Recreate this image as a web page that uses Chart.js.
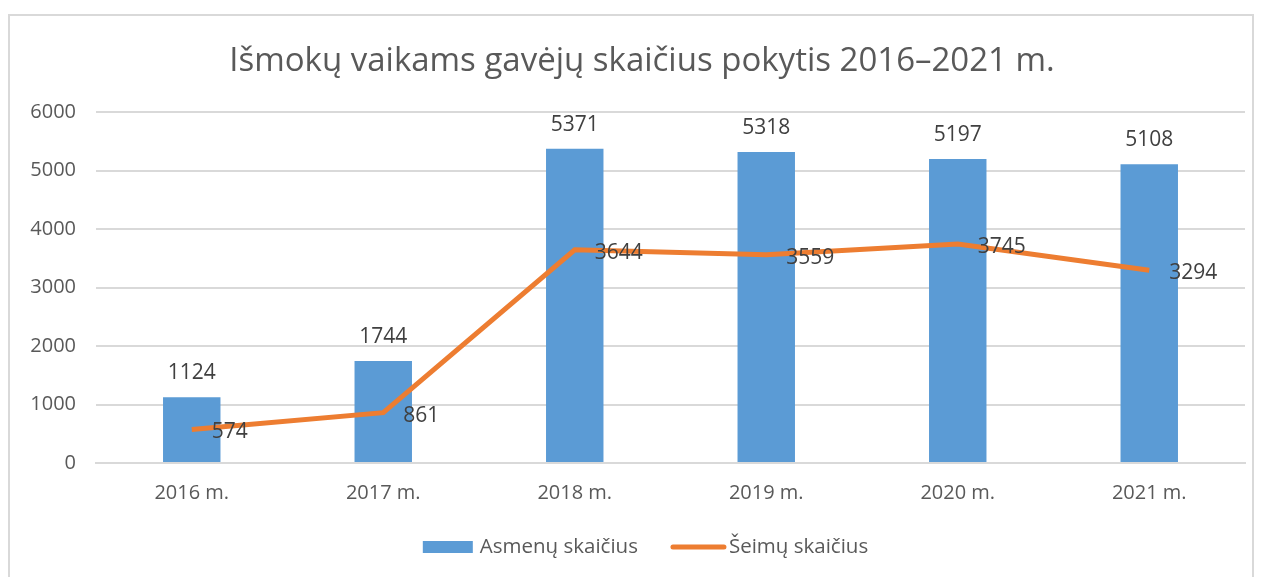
<!DOCTYPE html>
<html>
<head>
<meta charset="utf-8">
<script src="https://cdn.jsdelivr.net/npm/chart.js@4"></script>
<style>
    html, body { margin: 0; padding: 0; background: #fff; }
    #wrap { position: relative; width: 1264px; height: 577px; }
    #frame { position: absolute; left: 8px; top: 14px; width: 1246px; height: 570px; border: 2px solid #d9d9d9; box-sizing: border-box; }
    #chart { position: absolute; left: 0; top: 0; }
</style>
</head>
<body>
<div id="wrap">
    <div id="frame"></div>
    <canvas id="chart" width="1264" height="577"></canvas>
</div>
<script>
// =====================================================
// DATA
// =====================================================
const years = ['2016 m.', '2017 m.', '2018 m.', '2019 m.', '2020 m.', '2021 m.'];
const asmenys = [1124, 1744, 5371, 5318, 5197, 5108];
const seimos = [574, 861, 3644, 3559, 3745, 3294];
const yTicks = [0, 1000, 2000, 3000, 4000, 5000, 6000];
const titleText = 'Išmokų vaikams gavėjų skaičius pokytis 2016–2021 m.';

const FONT = '"Open Sans", "Noto Sans", sans-serif';
const TEXT = '#595959';

Chart.defaults.font.family = FONT;
Chart.defaults.color = TEXT;

// title drawn by hand so it sits where Excel put it
const topTitle = {
    id: 'topTitle',
    afterDraw(chart) {
        const ctx = chart.ctx;
        ctx.save();
        ctx.font = '33px ' + FONT;
        ctx.fillStyle = TEXT;
        ctx.textAlign = 'center';
        ctx.textBaseline = 'middle';
        ctx.fillText(titleText, 642, 62);
        ctx.restore();
    }
};

// value labels: above bars, right of line points
const valueLabels = {
    id: 'valueLabels',
    afterDatasetsDraw(chart) {
        const ctx = chart.ctx;
        ctx.save();
        ctx.font = '21px ' + FONT;
        ctx.fillStyle = '#404040';
        ctx.textBaseline = 'middle';
        chart.getDatasetMeta(0).data.forEach(function (bar, i) {
            ctx.textAlign = 'center';
            ctx.fillText(asmenys[i], bar.x, bar.y - 24);
        });
        chart.getDatasetMeta(1).data.forEach(function (pt, i) {
            ctx.textAlign = 'left';
            ctx.fillText(seimos[i], pt.x + 20, pt.y + 3);
        });
        ctx.restore();
    }
};

// legend drawn by hand (Excel style spacing)
const bottomLegend = {
    id: 'bottomLegend',
    afterDraw(chart) {
        const ctx = chart.ctx;
        const ds = chart.data.datasets;
        const y = 547;
        const boxW = 50, lineW = 55, gapText = 7, gapItem = 33;
        ctx.save();
        ctx.font = '20.5px ' + FONT;
        ctx.textBaseline = 'middle';
        ctx.textAlign = 'left';
        const w0 = ctx.measureText(ds[0].label).width;
        const w1 = ctx.measureText(ds[1].label).width;
        const total = boxW + gapText + w0 + gapItem + lineW + 3 + w1;
        let x = (chart.chartArea.left + chart.chartArea.right) / 2 - 25 - total / 2;

        ctx.fillStyle = ds[0].backgroundColor;
        ctx.fillRect(x, y - 6, boxW, 12);
        x += boxW + gapText;
        ctx.fillStyle = TEXT;
        ctx.fillText(ds[0].label, x, y);
        x += w0 + gapItem;

        ctx.strokeStyle = ds[1].borderColor;
        ctx.lineWidth = 5;
        ctx.lineCap = 'round';
        ctx.beginPath();
        ctx.moveTo(x + 2, y);
        ctx.lineTo(x + lineW - 2, y);
        ctx.stroke();
        x += lineW + 3;
        ctx.fillStyle = TEXT;
        ctx.fillText(ds[1].label, x, y);
        ctx.restore();
    }
};

new Chart(document.getElementById('chart'), {
    type: 'bar',
    data: {
        labels: years,
        datasets: [
            {
                label: 'Asmenų skaičius',
                data: asmenys,
                backgroundColor: '#5B9BD5',
                borderWidth: 0,
                barPercentage: 0.3,
                categoryPercentage: 1,
                order: 2
            },
            {
                type: 'line',
                label: 'Šeimų skaičius',
                data: seimos,
                borderColor: '#ED7D31',
                backgroundColor: '#ED7D31',
                borderWidth: 5,
                pointRadius: 0,
                tension: 0,
                order: 1
            }
        ]
    },
    options: {
        responsive: false,
        animation: false,
        layout: {
            padding: { left: 0, right: 19, top: 112, bottom: 54 }
        },
        plugins: {
            title: { display: false },
            legend: { display: false },
            tooltip: { enabled: false }
        },
        scales: {
            x: {
                grid: { display: false, drawTicks: false },
                border: { display: true, color: '#d9d9d9', width: 2 },
                ticks: { color: TEXT, font: { size: 20 }, padding: 18 }
            },
            y: {
                min: 0,
                max: 6000,
                afterBuildTicks: function (scale) {
                    scale.ticks = yTicks.map(function (v) { return { value: v }; });
                },
                afterFit: function (scale) { scale.width = 96; },
                grid: { color: '#d9d9d9', lineWidth: 2, drawTicks: false },
                border: { display: false },
                ticks: {
                    color: TEXT,
                    font: { size: 20 },
                    padding: 20,
                    callback: function (v) { return String(v); }
                }
            }
        }
    },
    plugins: [topTitle, valueLabels, bottomLegend]
});
</script>
</body>
</html>
